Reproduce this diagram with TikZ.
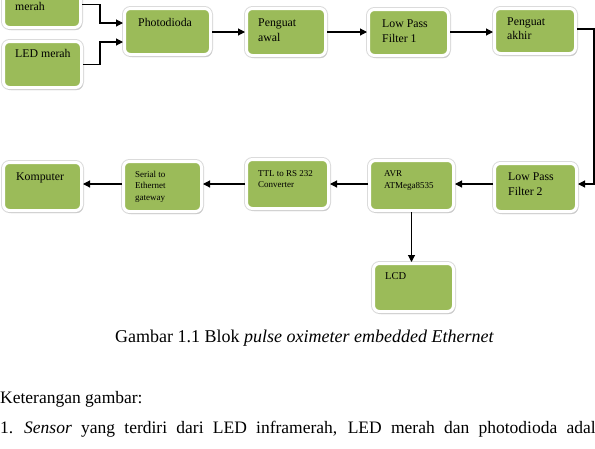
\documentclass[tikz,border=0pt]{standalone}
\usepackage{fontspec}
\setmainfont{Liberation Serif}
\usetikzlibrary{arrows.meta,shadows}
\definecolor{boxgreen}{HTML}{9BBB59}
\begin{document}
\begin{tikzpicture}[x=1pt,y=-1pt,
  blk/.style={rectangle, rounded corners=6pt, fill=boxgreen, draw=white, line width=3pt,
    inner sep=0pt, outer sep=1.5pt,
    preaction={draw=black!14, line width=5pt},
    general shadow={fill=black!20, shadow xshift=1.5pt, shadow yshift=-2.5pt}},
  txt/.style={inner sep=0pt, anchor=base west, align=left, font=\fontsize{11.8}{15}\selectfont},
  stxt/.style={txt, font=\fontsize{9}{11.5}\selectfont},
  arr/.style={line width=1.1pt, -{Triangle[length=7pt,width=7pt]}},
  captxt/.style={inner sep=0pt, anchor=base west, font=\fontsize{17.5}{20}\selectfont}]
\useasboundingbox (0,0) rectangle (595,448);
% boxes
\node[blk, minimum width=77pt, minimum height=46pt] (inf) at (42,4.5) {};
\node[blk, minimum width=78pt, minimum height=46pt] (led) at (42.5,64.5) {};
\node[blk, minimum width=86pt, minimum height=46pt] (pd) at (167.5,31.5) {};
\node[blk, minimum width=79pt, minimum height=47pt] (pa) at (286,32) {};
\node[blk, minimum width=80pt, minimum height=46pt] (lpfa) at (408.5,32.5) {};
\node[blk, minimum width=81pt, minimum height=45pt] (pk) at (535,31) {};
\node[blk, minimum width=82pt, minimum height=48pt] (lpfb) at (535.5,187.5) {};
\node[blk, minimum width=84pt, minimum height=50pt] (avr) at (411.5,185.5) {};
\node[blk, minimum width=82pt, minimum height=49pt] (ttl) at (287.5,184) {};
\node[blk, minimum width=78pt, minimum height=50pt] (ser) at (162.5,186.5) {};
\node[blk, minimum width=78pt, minimum height=48pt] (kom) at (42.5,186.5) {};
\node[blk, minimum width=80pt, minimum height=48pt] (lcd) at (413.5,287.5) {};
% texts (anchor = baseline of last line)
\node[txt] (inft) at (15,10) {merah};
\node[txt] (ledt) at (15,57) {LED merah};
\node[txt] (pdt) at (138,26) {Photodioda};
\node[txt] (pat) at (258,41) {Penguat\\awal};
\node[txt] (lpfat) at (382,42) {Low Pass\\Filter 1};
\node[txt, font=\fontsize{11.8}{14}\selectfont] (pkt) at (507,39) {Penguat\\akhir};
\node[txt] (lpfbt) at (508,195) {Low Pass\\Filter 2};
\node[stxt] (avrt) at (384,188) {AVR\\ATMega8535};
\node[stxt] (ttlt) at (258,187.5) {TTL to RS 232\\Converter};
\node[stxt] (sert) at (135,200) {Serial to\\Ethernet\\gateway};
\node[txt] (komt) at (16,180) {Komputer};
\node[txt, font=\fontsize{10.5}{12}\selectfont] (lcdt) at (385,279) {LCD};
% connectors
\coordinate (rowa) at (0,32);
\coordinate (rowb) at (0,184);
\coordinate (rt) at (594,0);
\draw[arr] (inf.east) -- ++(18,0) |- ([yshift=8.5pt]pd.west);
\draw[arr] (led.east) -- ++(17,0) |- ([yshift=-10.5pt]pd.west);
\draw[arr] (pd.east |- rowa) -- (pa.west |- rowa);
\draw[arr] (pa.east |- rowa) -- (lpfa.west |- rowa);
\draw[arr] (lpfa.east |- rowa) -- (pk.west |- rowa);
\draw[arr] ([yshift=2pt]pk.east) -- ([yshift=2pt]pk.east -| rt) -- (rt |- rowb) -- (lpfb.east |- rowb);
\draw[arr] (lpfb.west |- rowb) -- (avr.east |- rowb);
\draw[arr] (avr.west |- rowb) -- (ttl.east |- rowb);
\draw[arr] (ttl.west |- rowb) -- (ser.east |- rowb);
\draw[arr] (ser.west |- rowb) -- (kom.east |- rowb);
\draw[arr] (avr.south) -- (avr.south |- lcd.north);
% caption and text
\node[captxt, font=\fontsize{18}{20}\selectfont] (caption) at (115,342) {Gambar 1.1 Blok \textit{pulse oximeter embedded Ethernet}};
\node[captxt] (ket) at (0,403) {Keterangan gambar:};
\node[captxt] (item) at (0,433) {\makebox[24pt][l]{1.}\makebox[588pt][s]{\textit{Sensor} yang terdiri dari LED inframerah, LED merah dan photodioda adalah}};
\end{tikzpicture}
\end{document}
